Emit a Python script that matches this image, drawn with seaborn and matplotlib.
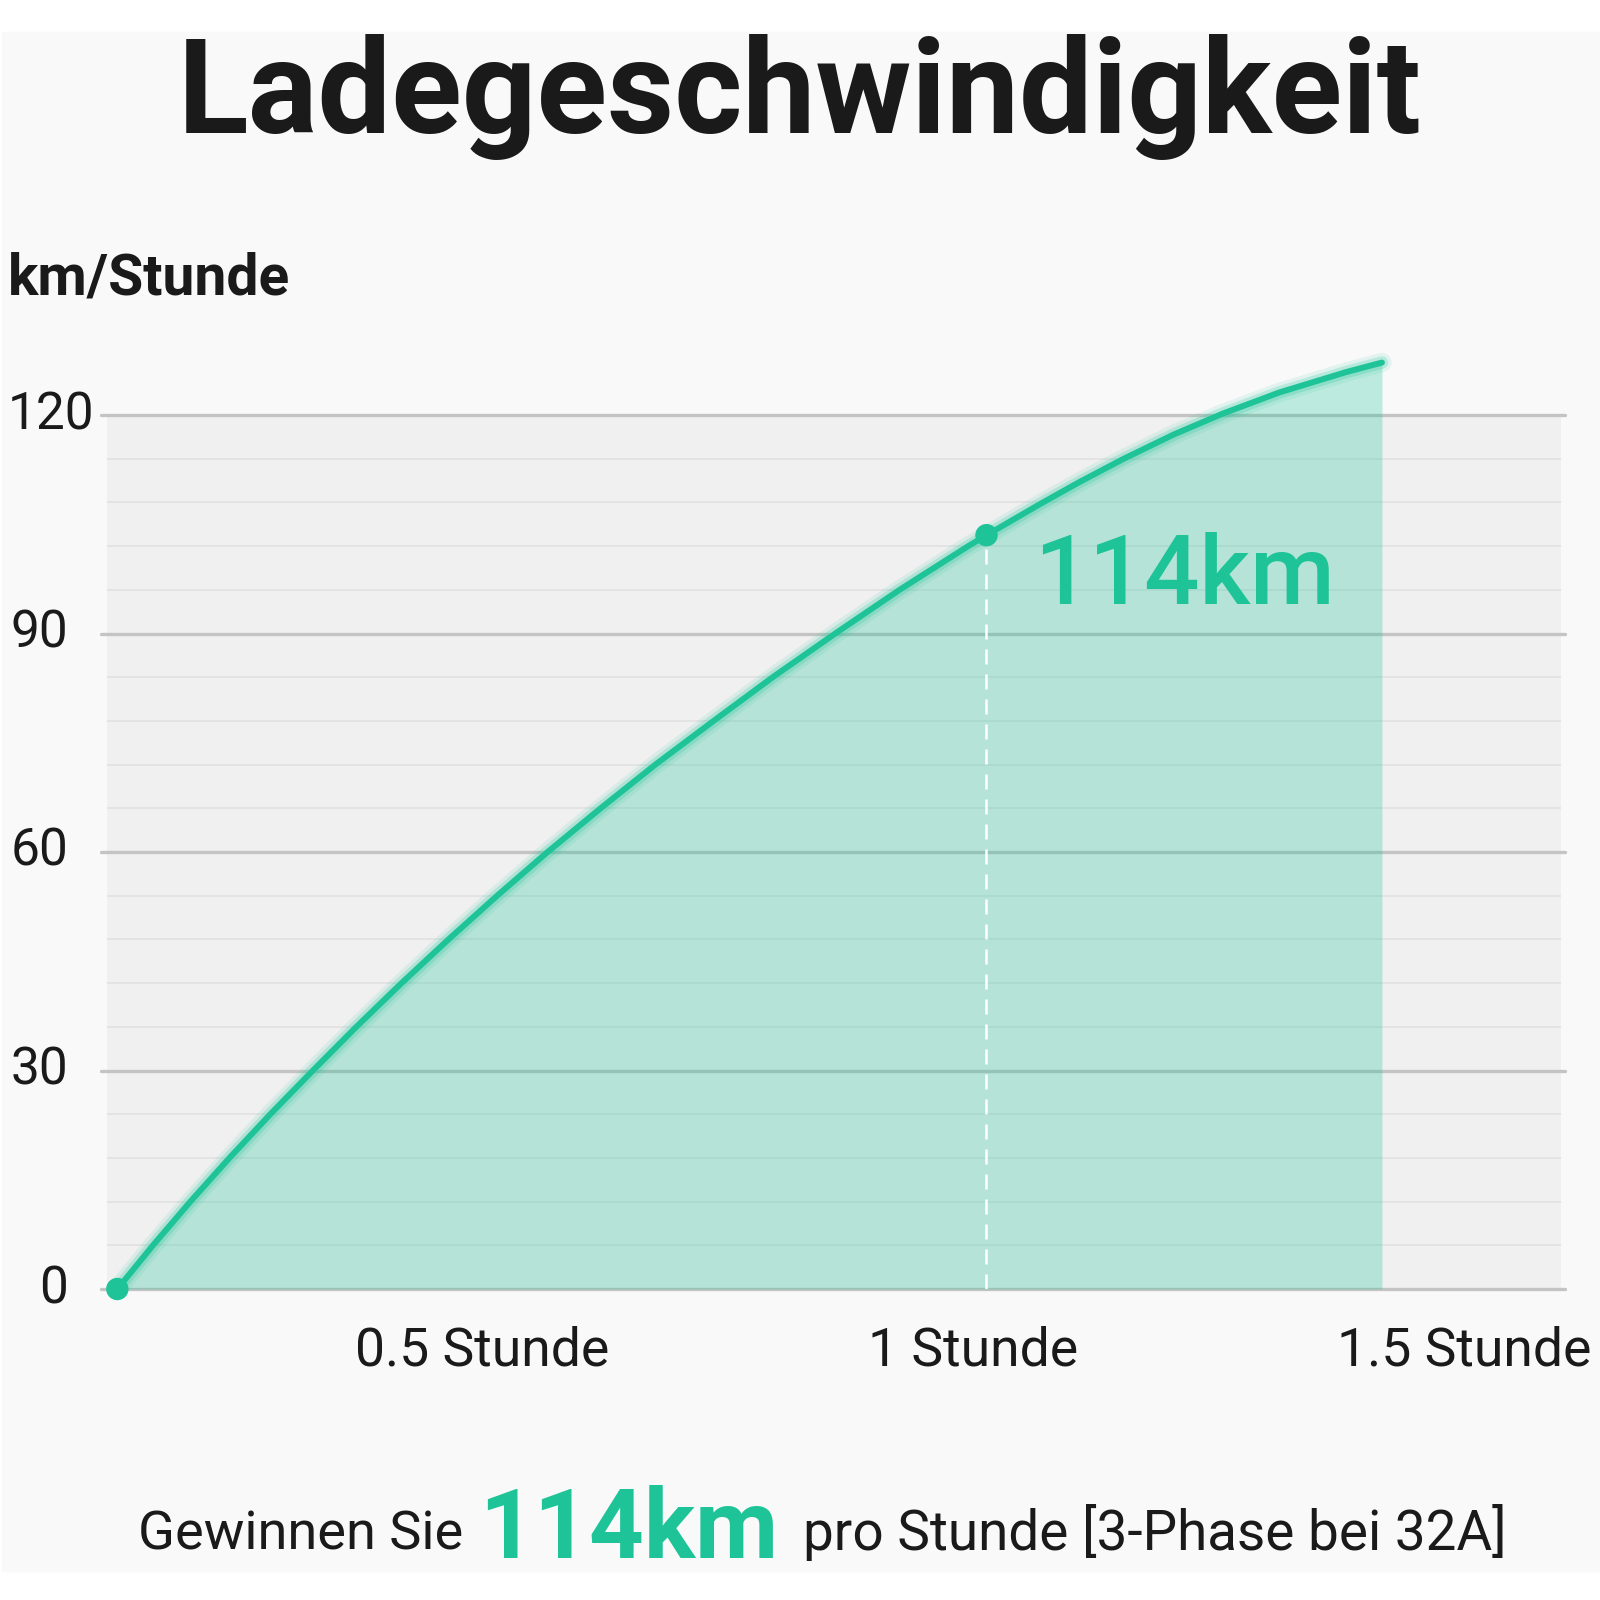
import matplotlib
matplotlib.use("Agg")
import matplotlib.pyplot as plt
import matplotlib.patheffects as pe
from matplotlib.patches import Rectangle
from matplotlib.transforms import blended_transform_factory
import seaborn as sns
import pandas as pd

# ---------------- data ----------------
hours = [0.0, 0.041, 0.084, 0.129, 0.176, 0.225, 0.275, 0.327, 0.381, 0.437,
         0.495, 0.556, 0.619, 0.686, 0.754, 0.826, 0.900, 0.979, 1.0, 1.062,
         1.107, 1.158, 1.215, 1.272, 1.337, 1.414, 1.455]
km_per_hour = [0.0, 6.0, 12.0, 18.0, 24.0, 30.0, 36.0, 42.0, 48.0, 54.0,
               60.0, 66.0, 72.0, 78.0, 84.0, 90.0, 96.0, 102.0, 103.5, 107.8,
               110.8, 114.0, 117.3, 120.2, 123.1, 125.9, 127.2]
highlight_hours = [0.0, 1.0]
highlight_km = [0.0, 103.5]
y_ticks = [0, 30, 60, 90, 120]
y_tick_labels = ["0", "30", "60", "90", "120"]
y_minor_ticks = [6, 12, 18, 24, 36, 42, 48, 54, 66, 72, 78, 84, 96, 102, 108, 114]
x_tick_labels = ["0.5 Stunde", "1 Stunde", "1.5 Stunde"]
x_tick_pos = [0.42, 0.985, 1.55]
title = "Ladegeschwindigkeit"
y_label = "km/Stunde"
highlight_label = "114km"
caption_parts = ["Gewinnen Sie", "114km", "pro Stunde [3-Phase bei 32A]"]

# ---------------- style ----------------
GREEN = "#1ec498"
DARK = "#1a1a1a"
sns.set_theme(style="white")
plt.rcParams["font.family"] = ["Roboto", "DejaVu Sans"]

W = H = 1600
fig = plt.figure(figsize=(16, 16), dpi=100, facecolor="white")
fig.add_artist(Rectangle((2 / W, 1 - 1571 / H), 1598 / W, (1571 - 32) / H,
                         transform=fig.transFigure, color="#f9f9f9", zorder=0))

ax = fig.add_axes([107 / W, 1 - 1289 / H, (1561 - 107) / W, (1289 - 415) / H])
ax.set_facecolor("#f0f0f0")
ax.set_xlim(-0.0119, 1.661)
ax.set_ylim(0, 120)
for s in ax.spines.values():
    s.set_visible(False)

# grid lines
for v in y_minor_ticks:
    ax.axhline(v, xmin=0, xmax=1, color="#e2e2e2", lw=1.3, zorder=1)
for v in y_ticks:
    ax.axhline(v, xmin=-0.004, xmax=1.003, color="#c4c4c4", lw=2.4,
               zorder=1.5, clip_on=False)

df = pd.DataFrame({"hours": hours, "km": km_per_hour})
ax.fill_between(df["hours"], df["km"], 0, color=GREEN, alpha=0.28, lw=0,
                zorder=2, clip_on=False)

ax.vlines(highlight_hours[1], 0, highlight_km[1], colors="white", lw=1.8,
          linestyles=(0, (6, 4)), zorder=3)

glow = [pe.Stroke(linewidth=14, foreground=GREEN, alpha=0.10),
        pe.Stroke(linewidth=9, foreground=GREEN, alpha=0.22),
        pe.Normal()]
sns.lineplot(data=df, x="hours", y="km", ax=ax, color=GREEN, lw=4.3,
             zorder=4, clip_on=False, path_effects=glow,
             solid_capstyle="round", solid_joinstyle="round", legend=False)
sns.scatterplot(x=highlight_hours, y=highlight_km, ax=ax, s=260, color=GREEN,
                edgecolor="none", zorder=5, clip_on=False, legend=False)

ax.text(1.055, 94.0, highlight_label, color=GREEN, fontsize=70,
        fontweight="medium", ha="left", va="baseline", zorder=6)

# axes labels / ticks
ax.set_xlabel("")
ax.set_ylabel("")
ax.set_yticks([])
ax.set_xticks(x_tick_pos)
ax.set_xticklabels(x_tick_labels, fontsize=38.5, color=DARK)
ax.tick_params(axis="x", length=0, pad=26)

trans = blended_transform_factory(fig.transFigure, ax.transData)
for v, lab in zip(y_ticks, y_tick_labels):
    if len(lab) >= 3:
        ax.text(8 / W, v, lab, transform=trans, ha="left", va="center",
                fontsize=37, color=DARK)
    else:
        ax.text(68 / W, v, lab, transform=trans, ha="right", va="center",
                fontsize=37, color=DARK)

fig.text(0.5, 1 - 133 / H, title, ha="center", va="baseline", fontsize=94,
         fontweight="bold", color=DARK)
fig.text(8 / W, 1 - 295 / H, y_label, ha="left", va="baseline", fontsize=41,
         fontweight="bold", color=DARK)

# caption with mixed styles
fig.canvas.draw()
r = fig.canvas.get_renderer()
x = 138
t1 = fig.text(x / W, 1 - 1550 / H, caption_parts[0], ha="left", va="baseline",
              fontsize=39, color=DARK)
x = t1.get_window_extent(r).x1 + 16
t2 = fig.text(x / W, 1 - 1558 / H, caption_parts[1], ha="left", va="baseline",
              fontsize=69, fontweight="bold", color=GREEN)
x = t2.get_window_extent(r).x1 + 25
fig.text(x / W, 1 - 1550 / H, caption_parts[2], ha="left", va="baseline",
         fontsize=39.5, color=DARK)

fig.savefig("out.png", dpi=100, facecolor="white")
